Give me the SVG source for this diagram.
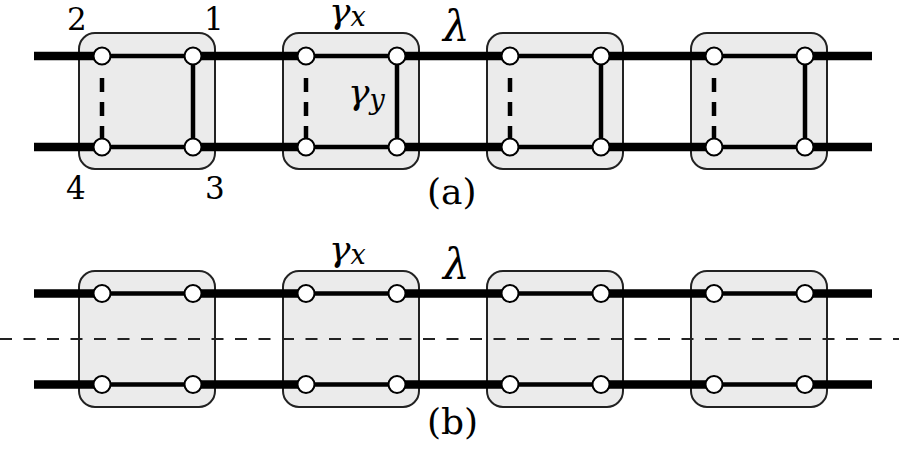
<svg xmlns="http://www.w3.org/2000/svg" width="899" height="450" viewBox="0 0 899 450">
<defs>
<style>
.box{fill:#ebebeb;stroke:#222;stroke-width:2}
.thick{stroke:#000;stroke-width:8.5;fill:none}
.thin{stroke:#000;stroke-width:4.5;fill:none}
.dash{stroke:#000;stroke-width:4.5;stroke-dasharray:14 10;fill:none}
.cut{stroke:#222;stroke-width:1.8;stroke-dasharray:12 11.5;fill:none}
.n{fill:#fff;stroke:#000;stroke-width:2}
.t{font-family:"DejaVu Serif",serif;fill:#000}
.m{font-family:"DejaVu Serif",serif;font-style:italic;fill:#000}
</style>
</defs>
<rect width="899" height="450" fill="#fff"/>
<g id="boxes">
<g id="a-box1"><rect class="box" x="79" y="33" width="136" height="136" rx="16"/></g>
<g id="a-box2"><rect class="box" x="283" y="33" width="136" height="136" rx="16"/></g>
<g id="a-box3"><rect class="box" x="487" y="33" width="136" height="136" rx="16"/></g>
<g id="a-box4"><rect class="box" x="691" y="33" width="136" height="136" rx="16"/></g>
<g id="b-box1"><rect class="box" x="79" y="271" width="136" height="136" rx="16"/></g>
<g id="b-box2"><rect class="box" x="283" y="271" width="136" height="136" rx="16"/></g>
<g id="b-box3"><rect class="box" x="487" y="271" width="136" height="136" rx="16"/></g>
<g id="b-box4"><rect class="box" x="691" y="271" width="136" height="136" rx="16"/></g>
</g>
<g id="connectors">
<path class="thick" d="M34 56H102M193 56H306M397 56H510M601 56H714M805 56H872"/>
<path class="thick" d="M34 147H102M193 147H306M397 147H510M601 147H714M805 147H872"/>
<path class="thin" d="M102 56H193M306 56H397M510 56H601M714 56H805"/>
<path class="thin" d="M102 147H193M306 147H397M510 147H601M714 147H805"/>
<path class="thin" d="M193 56V147M397 56V147M601 56V147M805 56V147"/>
<path class="dash" d="M102 78V147M306 78V147M510 78V147M714 78V147"/>
<path class="thick" d="M34 293.5H102M193 293.5H306M397 293.5H510M601 293.5H714M805 293.5H872"/>
<path class="thick" d="M34 384.5H102M193 384.5H306M397 384.5H510M601 384.5H714M805 384.5H872"/>
<path class="thin" d="M102 293.5H193M306 293.5H397M510 293.5H601M714 293.5H805"/>
<path class="thin" d="M102 384.5H193M306 384.5H397M510 384.5H601M714 384.5H805"/>
<path class="cut" d="M0 339H899"/>
</g>
<g id="a-nodes1"><circle class="n" cx="102" cy="56" r="8.5"/><circle class="n" cx="193" cy="56" r="8.5"/><circle class="n" cx="102" cy="147" r="8.5"/><circle class="n" cx="193" cy="147" r="8.5"/></g>
<g id="a-nodes2"><circle class="n" cx="306" cy="56" r="8.5"/><circle class="n" cx="397" cy="56" r="8.5"/><circle class="n" cx="306" cy="147" r="8.5"/><circle class="n" cx="397" cy="147" r="8.5"/></g>
<g id="a-nodes3"><circle class="n" cx="510" cy="56" r="8.5"/><circle class="n" cx="601" cy="56" r="8.5"/><circle class="n" cx="510" cy="147" r="8.5"/><circle class="n" cx="601" cy="147" r="8.5"/></g>
<g id="a-nodes4"><circle class="n" cx="714" cy="56" r="8.5"/><circle class="n" cx="805" cy="56" r="8.5"/><circle class="n" cx="714" cy="147" r="8.5"/><circle class="n" cx="805" cy="147" r="8.5"/></g>
<g id="b-nodes1"><circle class="n" cx="102" cy="293.5" r="8.5"/><circle class="n" cx="193" cy="293.5" r="8.5"/><circle class="n" cx="102" cy="384.5" r="8.5"/><circle class="n" cx="193" cy="384.5" r="8.5"/></g>
<g id="b-nodes2"><circle class="n" cx="306" cy="293.5" r="8.5"/><circle class="n" cx="397" cy="293.5" r="8.5"/><circle class="n" cx="306" cy="384.5" r="8.5"/><circle class="n" cx="397" cy="384.5" r="8.5"/></g>
<g id="b-nodes3"><circle class="n" cx="510" cy="293.5" r="8.5"/><circle class="n" cx="601" cy="293.5" r="8.5"/><circle class="n" cx="510" cy="384.5" r="8.5"/><circle class="n" cx="601" cy="384.5" r="8.5"/></g>
<g id="b-nodes4"><circle class="n" cx="714" cy="293.5" r="8.5"/><circle class="n" cx="805" cy="293.5" r="8.5"/><circle class="n" cx="714" cy="384.5" r="8.5"/><circle class="n" cx="805" cy="384.5" r="8.5"/></g>
<g id="labels">
<text class="t" x="67" y="30" font-size="31">2</text>
<text class="t" x="204" y="30" font-size="31">1</text>
<text class="t" x="66" y="199" font-size="31">4</text>
<text class="t" x="205" y="199" font-size="31">3</text>
<text class="m" x="329" y="23" font-size="36">γ<tspan font-size="27" dy="3">x</tspan></text>
<text class="m" x="443" y="41" font-size="42">λ</text>
<text class="m" x="348" y="104" font-size="36">γ<tspan font-size="27" dy="5">y</tspan></text>
<text class="t" x="427" y="204" font-size="36">(a)</text>
<text class="m" x="329" y="261" font-size="36">γ<tspan font-size="27" dy="3">x</tspan></text>
<text class="m" x="443" y="279" font-size="42">λ</text>
<text class="t" x="427" y="434" font-size="36">(b)</text>
</g>
</svg>
